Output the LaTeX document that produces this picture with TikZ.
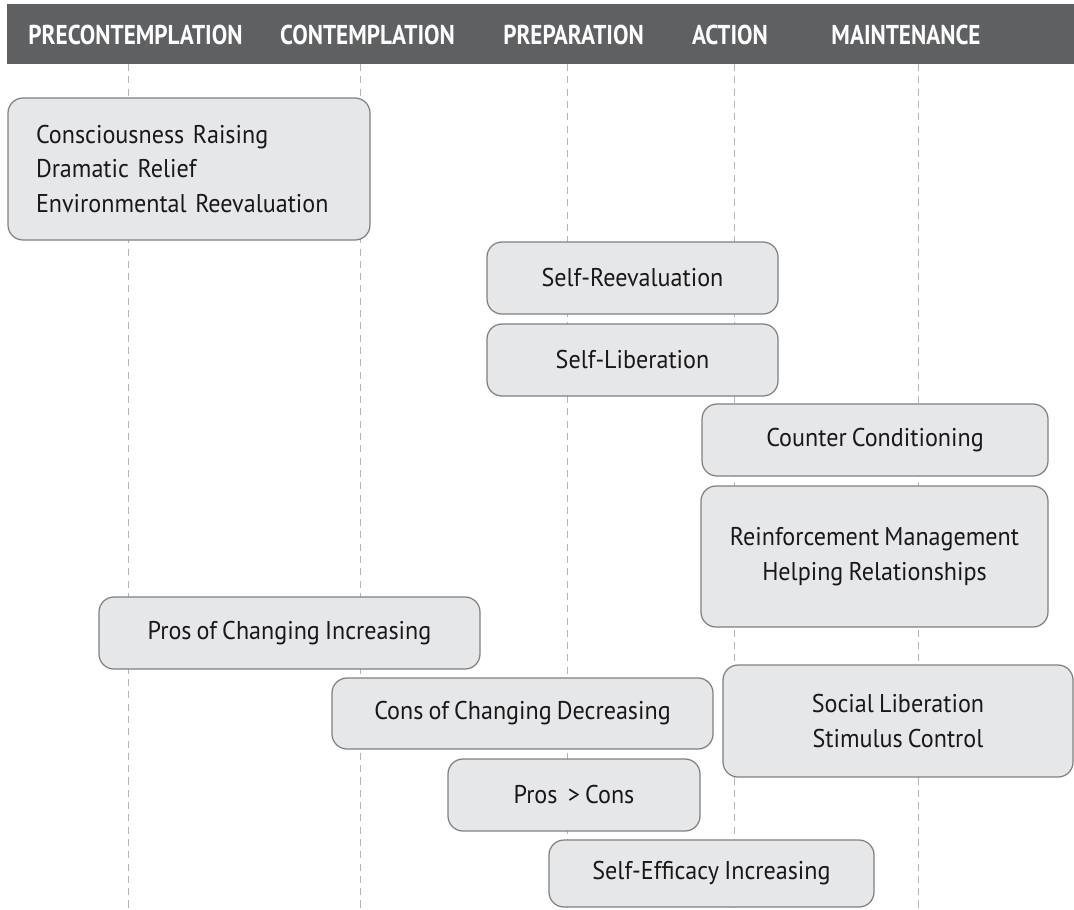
\documentclass[tikz,border=0pt]{standalone}
\usepackage{fontspec}
\setmainfont[FakeStretch=0.94,WordSpace=0.8]{PT Sans}
\newfontfamily\stagefont[FakeStretch=0.85]{PT Sans}
\usetikzlibrary{positioning,calc,backgrounds}
\definecolor{barGray}{HTML}{5F6062}
\definecolor{boxFill}{HTML}{E6E7E9}
\definecolor{boxLine}{HTML}{808080}
\definecolor{guideGray}{HTML}{B5B5B5}
\definecolor{inkBlack}{HTML}{1A1718}
\newcommand{\boxfont}{\fontsize{14.6}{19.5}\selectfont}

\begin{document}
\begin{tikzpicture}
[stage/.style={text=white,font=\stagefont\bfseries\fontsize{15.5}{18}\selectfont,anchor=center},
proc/.style={draw=boxLine,line width=.7pt,fill=boxFill,rounded corners=.3cm,
  text=inkBlack,font=\boxfont,align=center,inner sep=0pt},
guide/.style={guideGray,dashed,dash pattern=on 4pt off 3pt,line width=.5pt}]
\useasboundingbox (0,0) rectangle (21.48,-18.18);
%%
%%%%%%%%%%%%%%%%%%
% stages
%%%%%%%%%%%%%%%%%%
\fill[barGray] (0.14,-0.08) rectangle (21.48,-1.28);
\node[stage] (pre) at (2.71,-0.70) {PRECONTEMPLATION};
\node[stage] (con) at (7.35,-0.70) {CONTEMPLATION};
\node[stage] (prep) at (11.47,-0.70) {PREPARATION};
\node[stage] (act) at (14.60,-0.70) {ACTION};
\node[stage] (main) at (18.12,-0.70) {MAINTENANCE};
%%
%% stage boundaries
\foreach \x in {2.56,7.2,11.34,14.68,18.36}
  \draw[guide] (\x,-1.28) -- (\x,-18.18);
%%
%%%%%%%%%%%%%%%%%%
% processes
%%%%%%%%%%%%%%%%%%
\node[proc,align=left,text width=6.12cm,inner xsep=.56cm,minimum height=2.84cm]
  (raise) at (3.78,-3.38) {Consciousness Raising\\Dramatic Relief\\Environmental Reevaluation};
\node[proc,minimum width=5.82cm,minimum height=1.44cm] (sreval) at (12.65,-5.56) {Self-Reevaluation};
\node[proc,minimum width=5.82cm,minimum height=1.44cm] (slib) at (12.65,-7.20) {Self-Liberation};
\node[proc,minimum width=6.92cm,minimum height=1.44cm] (cond) at (17.50,-8.80) {Counter Conditioning};
\node[proc,minimum width=6.94cm,minimum height=2.82cm] (reinf) at (17.49,-11.13)
  {Reinforcement Management\\Helping Relationships};
%%
%% decisional balance
\node[proc,minimum width=7.62cm,minimum height=1.44cm] (pros) at (5.79,-12.66) {Pros of Changing Increasing};
\node[proc,minimum width=7.62cm,minimum height=1.42cm] (cons) at (10.45,-14.27) {Cons of Changing Decreasing};
\node[proc,minimum width=7.00cm,minimum height=2.24cm] (soclib) at (17.96,-14.42)
  {Social Liberation\\Stimulus Control};
\node[proc,minimum width=5.04cm,minimum height=1.44cm] (balance) at (11.48,-15.90) {Pros~ > Cons};
\node[proc,minimum width=6.50cm,minimum height=1.34cm] (effic) at (14.23,-17.47) {Self-Efficacy Increasing};
%%
\end{tikzpicture}
\end{document}
